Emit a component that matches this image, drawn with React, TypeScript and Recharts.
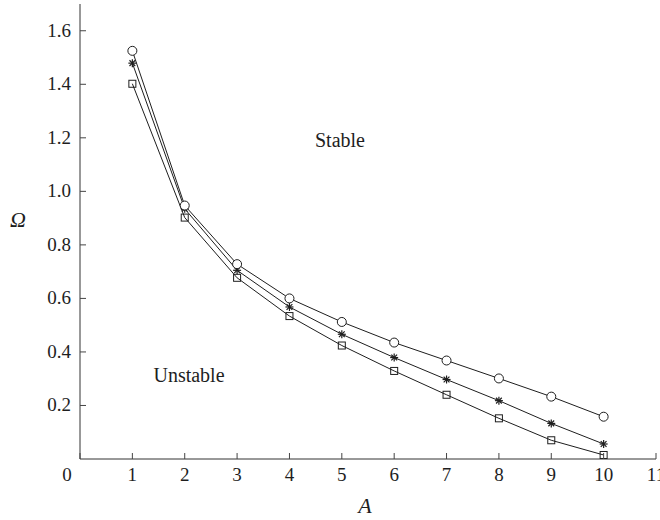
import React from 'react'
import { LineChart, Line, XAxis, YAxis } from 'recharts'

// values
const aValues = [1, 2, 3, 4, 5, 6, 7, 8, 9, 10]
const omegaCircle = [1.525, 0.947, 0.728, 0.6, 0.512, 0.435, 0.368, 0.301, 0.233, 0.158]
const omegaStar = [1.479, 0.935, 0.705, 0.568, 0.466, 0.379, 0.297, 0.218, 0.133, 0.056]
const omegaSquare = [1.402, 0.902, 0.677, 0.534, 0.424, 0.329, 0.24, 0.152, 0.07, 0.015]
const xTicks = [0, 1, 2, 3, 4, 5, 6, 7, 8, 9, 10, 11]
const yTicks = [0.2, 0.4, 0.6, 0.8, 1.0, 1.2, 1.4, 1.6]

const rows = aValues.map((a, i) => ({
  A: a,
  circ: omegaCircle[i],
  star: omegaStar[i],
  sq: omegaSquare[i],
}))

const ink = '#1e1e1e'
const font = '"Liberation Serif", "Times New Roman", serif'
const serif = { fontFamily: font }

const XTick = (props: any) => {
  const { x, y, payload } = props
  const dx = payload.value === 0 ? -13 : 0
  return (
    <g>
      <line x1={x} y1={y} x2={x} y2={y - 6} stroke='#444' />
      <text x={x + dx} y={y + 22} textAnchor='middle' fontSize={19} style={serif} fill={ink}>
        {payload.value}
      </text>
    </g>
  )
}

const YTick = (props: any) => {
  const { x, y, payload } = props
  return (
    <g>
      <line x1={x} y1={y} x2={x + 6} y2={y} stroke='#444' />
      <text x={x - 9} y={y + 6} textAnchor='end' fontSize={19} style={serif} fill={ink}>
        {payload.value.toFixed(1)}
      </text>
    </g>
  )
}

const CircleDot = (p: any) => (
  <circle key={'c' + p.index} cx={p.cx} cy={p.cy} r={4.5} fill='#fff' stroke={ink} strokeWidth={1} />
)

const SquareDot = (p: any) => (
  <rect key={'s' + p.index} x={p.cx - 3.5} y={p.cy - 3.5} width={7} height={7} fill='none' stroke={ink} strokeWidth={1} />
)

const StarDot = (p: any) => {
  const r = 4
  const d = r * 0.72
  return (
    <g key={'a' + p.index} stroke={ink} strokeWidth={1.2}>
      <line x1={p.cx - r} y1={p.cy} x2={p.cx + r} y2={p.cy} />
      <line x1={p.cx} y1={p.cy - r} x2={p.cx} y2={p.cy + r} />
      <line x1={p.cx - d} y1={p.cy - d} x2={p.cx + d} y2={p.cy + d} />
      <line x1={p.cx - d} y1={p.cy + d} x2={p.cx + d} y2={p.cy - d} />
    </g>
  )
}

export default function App() {
  return (
    <div style={{ position: 'absolute', left: 0, top: 0, width: 660, height: 520, background: '#fff', fontFamily: font }}>
      <LineChart width={660} height={520} data={rows} margin={{ top: 4, right: 4, bottom: 0, left: 0 }} style={serif}>
        <XAxis
          dataKey='A'
          type='number'
          domain={[0, 11]}
          ticks={xTicks}
          interval={0}
          height={61}
          tickSize={0}
          tickMargin={0}
          tickLine={false}
          axisLine={{ stroke: '#333' }}
          tick={<XTick />}
          allowDataOverflow
        />
        <YAxis
          type='number'
          domain={[0, 1.7]}
          ticks={yTicks}
          interval={0}
          width={80}
          tickSize={0}
          tickMargin={0}
          tickLine={false}
          axisLine={{ stroke: '#333' }}
          tick={<YTick />}
          allowDataOverflow
        />
        <Line dataKey='sq' stroke={ink} strokeWidth={1} dot={SquareDot} isAnimationActive={false} />
        <Line dataKey='star' stroke={ink} strokeWidth={1} dot={StarDot} isAnimationActive={false} />
        <Line dataKey='circ' stroke={ink} strokeWidth={1} dot={CircleDot} isAnimationActive={false} />
      </LineChart>
      <svg width={660} height={520} style={{ position: 'absolute', left: 0, top: 0, pointerEvents: 'none' }}>
        <text x={340} y={147} textAnchor='middle' fontSize={20} style={serif} fill={ink}>Stable</text>
        <text x={189} y={382} textAnchor='middle' fontSize={20} style={serif} fill={ink}>Unstable</text>
        <text x={365} y={513} textAnchor='middle' fontSize={22} fontStyle='italic' style={serif} fill={ink}>A</text>
        <text x={18} y={227} textAnchor='middle' fontSize={22} fontStyle='italic' style={serif} fill={ink}>Ω</text>
      </svg>
    </div>
  )
}
